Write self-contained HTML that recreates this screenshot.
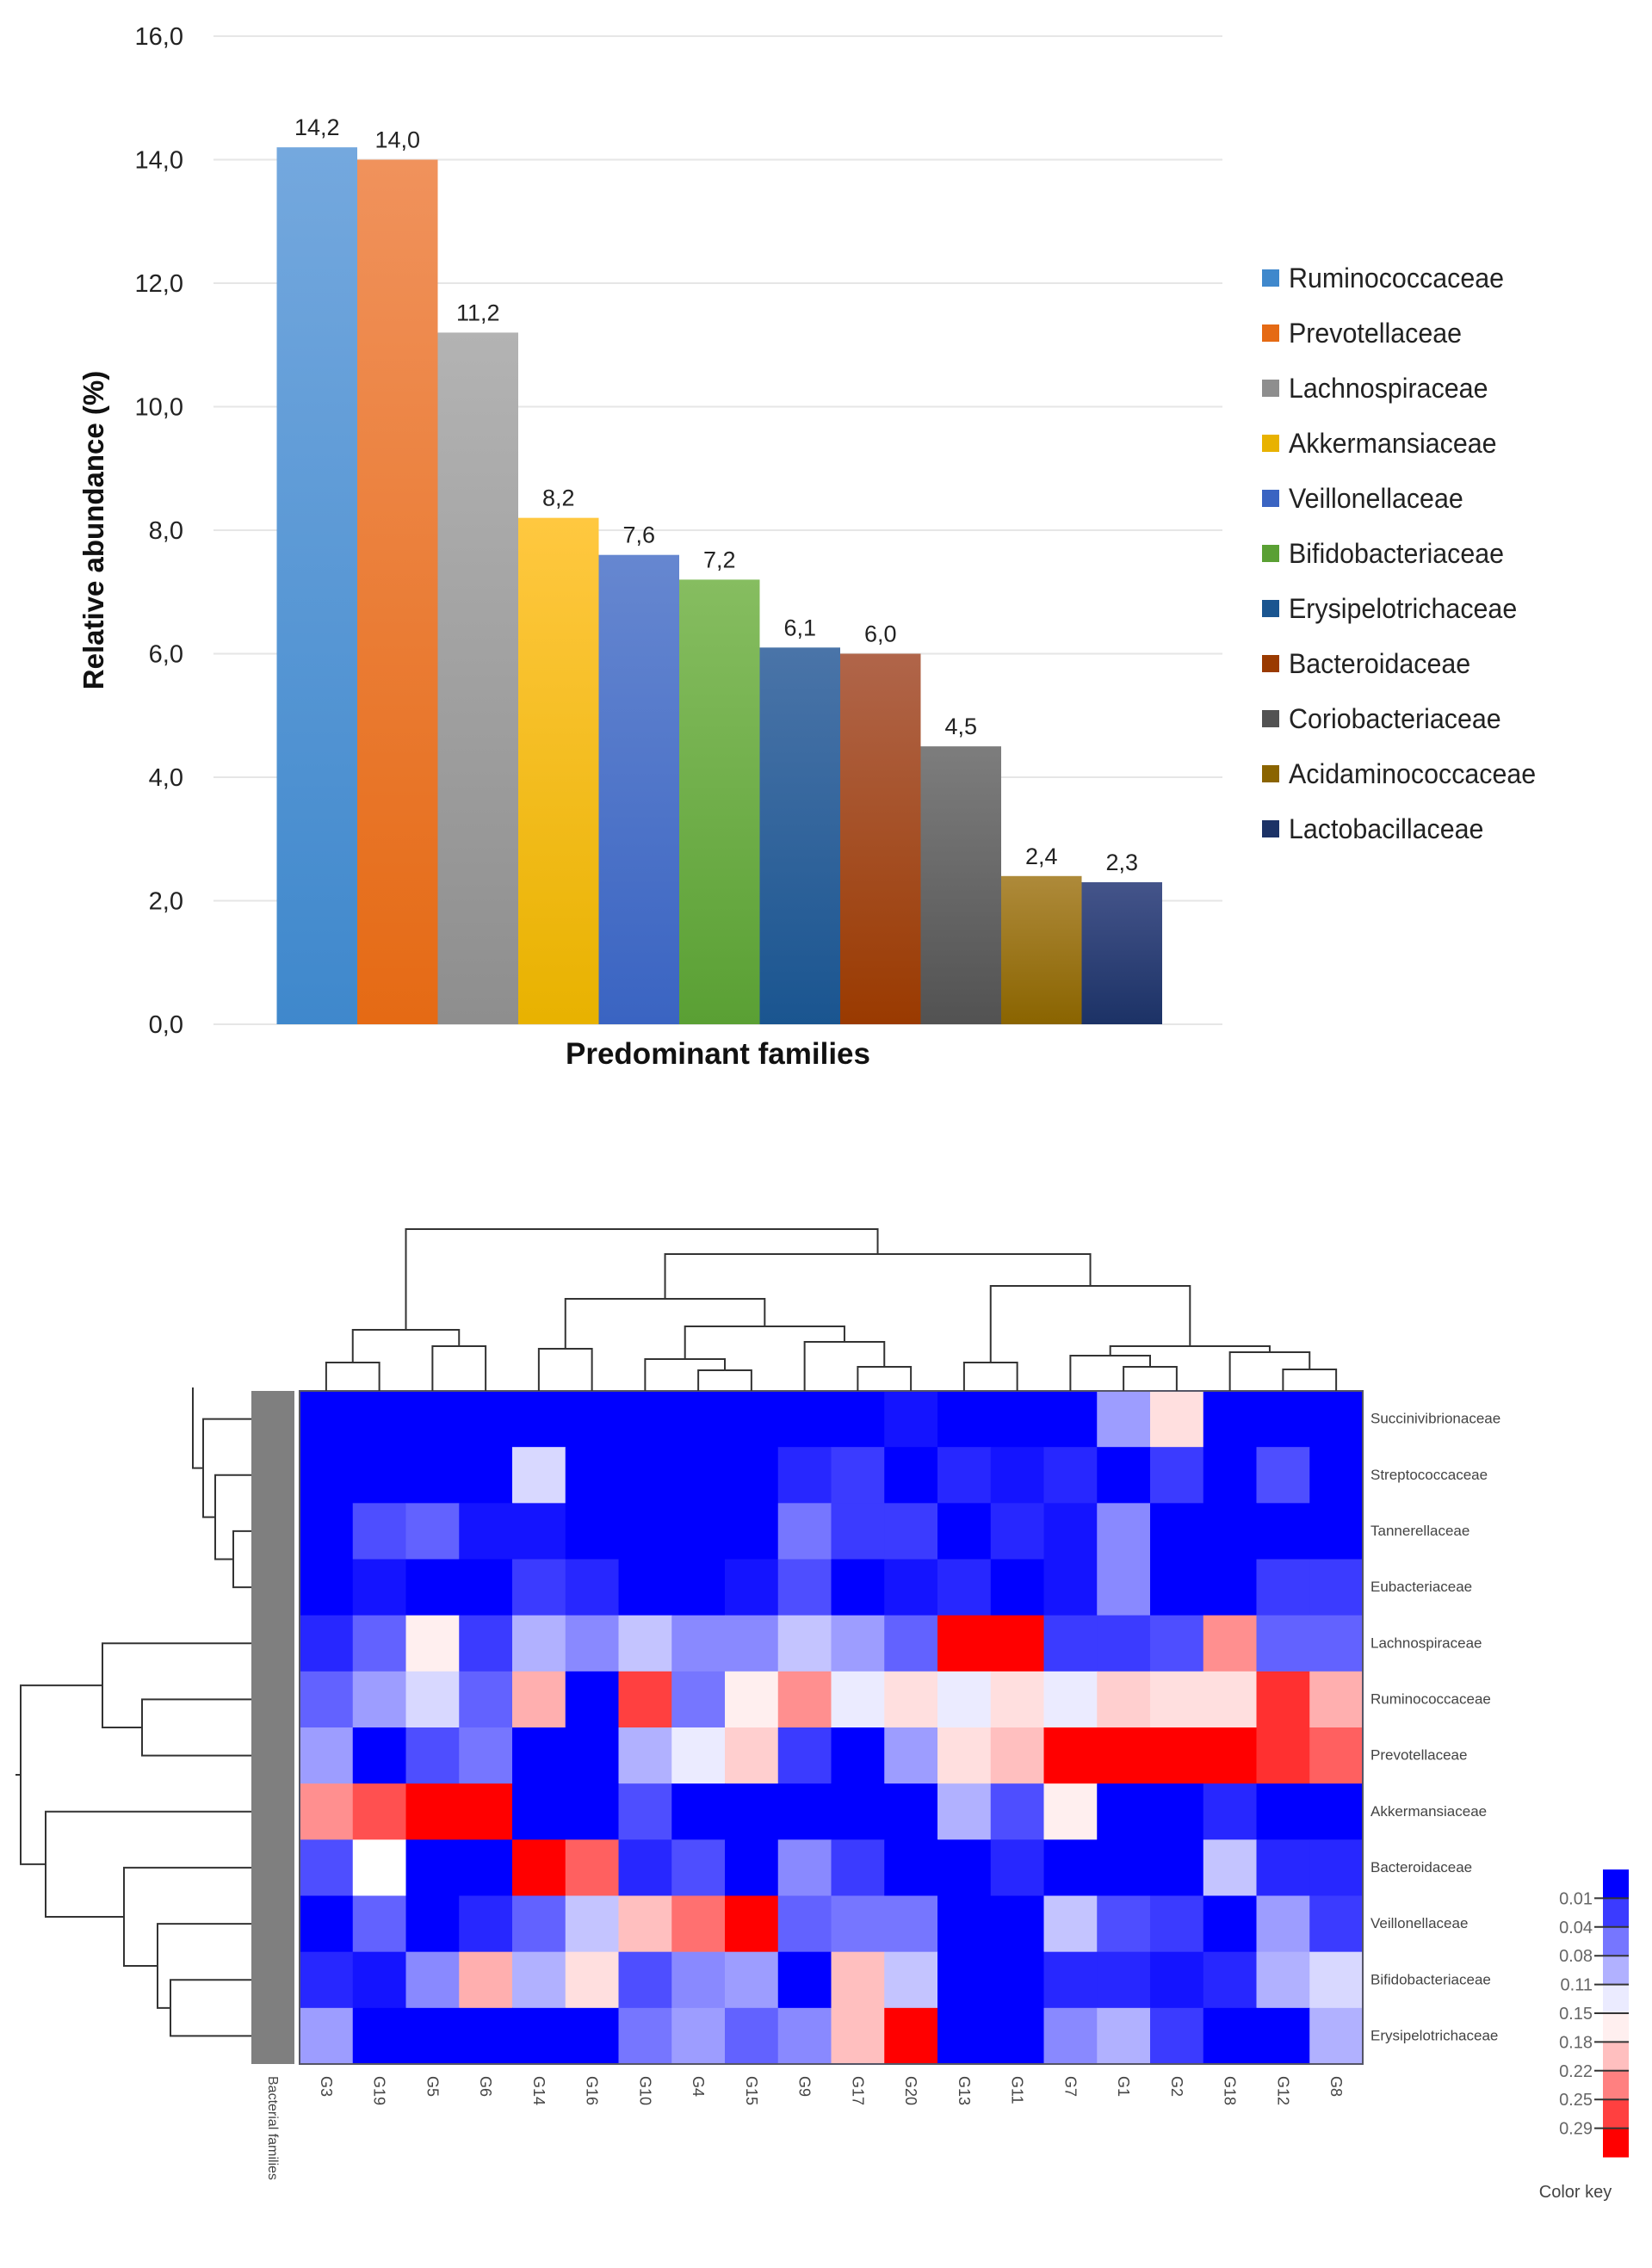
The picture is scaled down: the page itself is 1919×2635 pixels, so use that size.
<!DOCTYPE html>
<html><head><meta charset="utf-8"><style>
html,body{margin:0;padding:0;background:#fff;}
svg{display:block;}
</style></head><body>
<svg id="root" width="1919" height="2635" viewBox="0 0 1919 2635" xmlns="http://www.w3.org/2000/svg">
<defs id="defs"></defs>
<g id="bar-chart"></g>
<g id="heatmap"></g>
</svg>
<script>
// ---- Bar chart data ----
const families = ["Ruminococcaceae","Prevotellaceae","Lachnospiraceae","Akkermansiaceae","Veillonellaceae","Bifidobacteriaceae","Erysipelotrichaceae","Bacteroidaceae","Coriobacteriaceae","Acidaminococcaceae","Lactobacillaceae"];
const abundance = [14.2,14.0,11.2,8.2,7.6,7.2,6.1,6.0,4.5,2.4,2.3];
const valueLabels = ["14,2","14,0","11,2","8,2","7,6","7,2","6,1","6,0","4,5","2,4","2,3"];
const yTicks = [0,2,4,6,8,10,12,14,16];
const yTickLabels = ["0,0","2,0","4,0","6,0","8,0","10,0","12,0","14,0","16,0"];
const barTop = ["#74a8de","#f0925c","#b3b3b3","#ffc840","#6687d0","#86bd60","#4a74a8","#b0654a","#7d7d7d","#ae8a3a","#44548a"];
const barBot = ["#3f88cc","#e56a14","#8e8e8e","#e8b200","#3a64c2","#5aa034","#1a5590","#9a3a00","#525252","#8a6400","#1c3266"];

// ---- Heatmap data ----
const hmCols = ["G3","G19","G5","G6","G14","G16","G10","G4","G15","G9","G17","G20","G13","G11","G7","G1","G2","G18","G12","G8"];
const hmRows = ["Succinivibrionaceae","Streptococcaceae","Tannerellaceae","Eubacteriaceae","Lachnospiraceae","Ruminococcaceae","Prevotellaceae","Akkermansiaceae","Bacteroidaceae","Veillonellaceae","Bifidobacteriaceae","Erysipelotrichaceae"];
const rowSucc  = [0,0,0,0,0,0,0,0,0,0,0,.01,0,0,0,.08,.15,0,0,0];
const rowStrep = [0,0,0,0,.11,0,0,0,0,.02,.03,0,.02,.01,.02,0,.03,0,.04,0];
const rowTann  = [0,.04,.05,.01,.01,0,0,0,0,.06,.03,.03,0,.02,.01,.07,0,0,0,0];
const rowEub   = [0,.01,0,0,.03,.02,0,0,.01,.04,0,.01,.02,0,.01,.07,0,0,.03,.03];
const rowLach  = [.02,.05,.14,.03,.09,.07,.1,.07,.07,.1,.08,.05,.3,.3,.03,.03,.04,.2,.05,.05];
const rowRum   = [.05,.08,.11,.05,.18,0,.25,.06,.14,.2,.12,.15,.12,.15,.12,.16,.15,.15,.26,.18];
const rowPrev  = [.08,0,.04,.06,0,0,.09,.12,.16,.03,0,.08,.15,.17,.3,.3,.3,.29,.26,.23];
const rowAkk   = [.2,.24,.3,.3,0,0,.04,0,0,0,0,0,.09,.04,.14,0,0,.02,0,0];
const rowBact  = [.04,.13,0,0,.3,.23,.02,.04,0,.07,.03,0,0,.02,0,0,0,.1,.02,.02];
const rowVeil  = [0,.05,0,.02,.05,.1,.17,.22,.3,.05,.06,.06,0,0,.1,.04,.03,0,.08,.03];
const rowBif   = [.02,.01,.07,.18,.09,.15,.04,.07,.08,0,.17,.1,0,0,.02,.02,.01,.02,.09,.11];
const rowEry   = [.08,0,0,0,0,0,.06,.08,.05,.07,.17,.3,0,0,.07,.09,.03,0,0,.09];
const keyLabels = ["0.01","0.04","0.08","0.11","0.15","0.18","0.22","0.25","0.29"];
const keyValues = [0,.03,.06,.09,.12,.14,.17,.21,.25,.3];

const NS="http://www.w3.org/2000/svg";
function mk(tag,parent,attrs){const e=document.createElementNS(NS,tag);for(const k in attrs)e.setAttribute(k,attrs[k]);parent.appendChild(e);return e;}

// ===== Bar chart =====
const bc=document.getElementById('bar-chart');
const defs=document.getElementById('defs');
const plotL=248, plotR=1420, y0=1190, y16=42;
const yScale=v=>y0-(v/16)*(y0-y16);
const barX0=321.5, barW=93.5;
const xScale=i=>barX0+i*barW;
yTicks.forEach((t,i)=>{
  const gl=mk('line',bc,{x1:plotL,x2:plotR,y1:yScale(t),y2:yScale(t),stroke:'#e6e6e6','stroke-width':2});
  
  
  const tl=mk('text',bc,{x:213,y:yScale(t)+10,'text-anchor':'end','font-family':'Liberation Sans, sans-serif','font-size':29,fill:'#222'});
  tl.textContent=yTickLabels[i];
  
  
});
abundance.forEach((v,i)=>{
  const g=mk('linearGradient',defs,{id:'gr'+i,x1:0,y1:0,x2:0,y2:1});
  mk('stop',g,{offset:'0',  'stop-color':barTop[i]});
  mk('stop',g,{offset:'1','stop-color':barBot[i]});
  const r=mk('rect',bc,{x:xScale(i),y:yScale(v),width:barW,height:y0-yScale(v),fill:'url(#gr'+i+')'});
  
  
  const t=mk('text',bc,{x:xScale(i)+barW/2,y:yScale(v)-14,'text-anchor':'middle','font-family':'Liberation Sans, sans-serif','font-size':27,fill:'#222'});
  t.textContent=valueLabels[i];
  
  
  const ly=323+i*64;
  const sq=mk('rect',bc,{x:1466,y:ly-10,width:20,height:20,fill:barBot[i]});
  
  
  const lt=mk('text',bc,{x:1497,y:ly+11,'font-family':'Liberation Sans, sans-serif','font-size':32,fill:'#222',transform:'translate(1497,0) scale(0.95,1) translate(-1497,0)'});
  lt.textContent=families[i];
  
  
});
const yt=mk('text',bc,{x:0,y:0,transform:'translate(120,616) rotate(-90)','text-anchor':'middle','font-family':'Liberation Sans, sans-serif','font-size':33,'font-weight':'bold',fill:'#111'});
yt.textContent='Relative abundance (%)';


const xt=mk('text',bc,{x:834,y:1236,'text-anchor':'middle','font-family':'Liberation Sans, sans-serif','font-size':35,'font-weight':'bold',fill:'#111'});
xt.textContent='Predominant families';



// ===== Heatmap =====
const hm=document.getElementById('heatmap');
const hmData=[rowSucc,rowStrep,rowTann,rowEub,rowLach,rowRum,rowPrev,rowAkk,rowBact,rowVeil,rowBif,rowEry];
const hx0=348, hx1=1583, hy0=1616, hy1=2398;
const cw=(hx1-hx0)/hmCols.length, ch=(hy1-hy0)/hmRows.length;
const colX=j=>hx0+j*cw, rowY=i=>hy0+i*ch;
function colorOf(v){
  const w=0.13;
  if(v<=w){const t=v/w;const c=Math.round(255*t);return `rgb(${c},${c},255)`;}
  const t=Math.min(1,(v-w)/(0.29-w));const c=Math.round(255*(1-t));return `rgb(255,${c},${c})`;
}
hmData.forEach((row,i)=>row.forEach((v,j)=>{
  const r=mk('rect',hm,{x:colX(j),y:rowY(i),width:cw+0.6,height:ch+0.6,fill:colorOf(v)});
  
  
}));
const fr=mk('rect',hm,{x:hx0,y:hy0,width:hx1-hx0,height:hy1-hy0,fill:'none',stroke:'#556',"stroke-width":2});


const gb=mk('rect',hm,{x:292,y:hy0,width:50,height:hy1-hy0,fill:'#7f7f7f'});


hmRows.forEach((n,i)=>{
  const t=mk('text',hm,{x:1592,y:rowY(i)+ch/2+5,'font-family':'Liberation Sans, sans-serif','font-size':17,fill:'#444'});
  t.textContent=n;
  
  
});
hmCols.forEach((n,j)=>{
  const cx=colX(j)+cw/2;
  const t=mk('text',hm,{x:0,y:0,transform:`translate(${cx-6},2412) rotate(90)`,'font-family':'Liberation Sans, sans-serif','font-size':18,fill:'#444'});
  t.textContent=n;
  
  
});
const bf=mk('text',hm,{x:0,y:0,transform:'translate(312,2412) rotate(90)','font-family':'Liberation Sans, sans-serif','font-size':16,fill:'#444'});
bf.textContent='Bacterial families';



// dendrograms
const ST={stroke:'#333','stroke-width':2,fill:'none'};
function dline(pts){const p=mk('polyline',hm,Object.assign({points:pts.map(q=>q.join(',')).join(' ')},ST));
  
  }
const colTree=[["G3","G19",1583],["G5","G6",1564],[0,1,1545],["G14","G16",1567],["G4","G15",1592],["G10",4,1579],["G17","G20",1588],["G9",6,1559],[5,7,1541],[3,8,1509],
["G13","G11",1583],["G1","G2",1588],["G7",11,1575],["G12","G8",1591],["G18",13,1571],[12,14,1564],[10,15,1494],[9,16,1457],[2,17,1428]];
const colPos=[];
function cpos(k){if(typeof k==='string')return [colX(hmCols.indexOf(k))+cw/2,hy0];return colPos[k];}
colTree.forEach(([a,b,h])=>{const A=cpos(a),B=cpos(b);dline([[A[0],A[1]],[A[0],h],[B[0],h],[B[0],B[1]]]);colPos.push([(A[0]+B[0])/2,h]);});
const rowTree=[["Tannerellaceae","Eubacteriaceae",271],["Streptococcaceae",0,250],["Succinivibrionaceae",1,236],["Ruminococcaceae","Prevotellaceae",165],["Lachnospiraceae",3,119],["Bifidobacteriaceae","Erysipelotrichaceae",198],["Veillonellaceae",5,183],["Bacteroidaceae",6,144],["Akkermansiaceae",7,53],[4,8,24]];
const rowPos=[];
function rpos(k){if(typeof k==='string')return [292,rowY(hmRows.indexOf(k))+ch/2];return rowPos[k];}
rowTree.forEach(([a,b,h])=>{const A=rpos(a),B=rpos(b);dline([[A[0],A[1]],[h,A[1]],[h,B[1]],[B[0],B[1]]]);rowPos.push([h,(A[1]+B[1])/2]);});
dline([[rowPos[2][0],rowPos[2][1]],[224,rowPos[2][1]],[224,1612]]);
dline([[rowPos[9][0],rowPos[9][1]],[18,rowPos[9][1]]]);

// color key
const kx=1862,ky0=2172,kh=33.4;
keyValues.forEach((v,i)=>{
  const r=mk('rect',hm,{x:kx,y:ky0+i*kh,width:30,height:kh+0.5,fill:colorOf(v)});
  
  
});
keyLabels.forEach((l,i)=>{
  const yy=ky0+(i+1)*kh;
  const tk=mk('line',hm,{x1:1852,x2:1892,y1:yy,y2:yy,stroke:'#333','stroke-width':2});
  
  
  const t=mk('text',hm,{x:1850,y:yy+7,'text-anchor':'end','font-family':'Liberation Sans, sans-serif','font-size':20,fill:'#666'});
  t.textContent=l;
  
  
});
const ck=mk('text',hm,{x:1830,y:2553,'text-anchor':'middle','font-family':'Liberation Sans, sans-serif','font-size':20,fill:'#444'});
ck.textContent='Color key';


</script>
</body></html>
